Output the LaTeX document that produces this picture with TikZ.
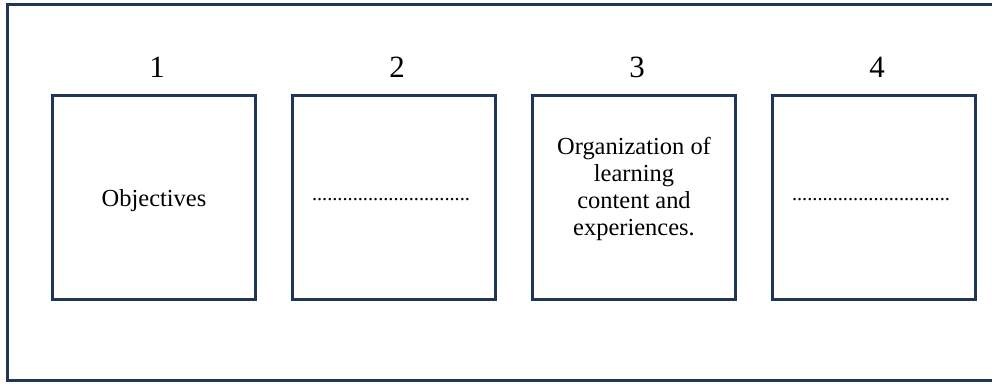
\documentclass[tikz,border=0pt]{standalone}
\usepackage{fontspec}
\setmainfont{Liberation Serif}
\usetikzlibrary{positioning}
\definecolor{ramka}{HTML}{1F3754}

\begin{document}
\begin{tikzpicture}[
        node distance=0.865cm, % Промежуток между квадратами
        blok/.style={draw=ramka, line width=0.075cm, minimum width=5.06cm, minimum height=5.1cm, inner sep=0pt}, % Квадраты этапов
        nomer/.style={inner sep=0pt, xshift=0.075cm, font=\fontsize{22}{26}\selectfont}, % Номера над квадратами
        tekst/.style={align=center, font=\fontsize{17.4}{19.4}\selectfont}, % Текст в квадрате
        tochki/.style={inner sep=0pt, xshift=-0.075cm, yshift=-0.075cm, font=\fontsize{14.5}{16}\selectfont}, % Пропуск для заполнения
    ]
    \useasboundingbox (0,0) rectangle (24.8,9.575);

    % Внешняя рамка, правый край за краем рисунка
    \draw[ramka, line width=0.075cm] (24.8,9.45) -- (0.18,9.45) -- (0.18,0.075) -- (24.8,0.075);

    \node[blok] (b1) at (3.85,4.65) {};
    \node[blok, right=of b1] (b2) {};
    \node[blok, right=of b2] (b3) {};
    \node[blok, right=of b3] (b4) {};

    \node[nomer, above=0.39cm of b1] (n1) {1};
    \node[nomer, above=0.39cm of b2] (n2) {2};
    \node[nomer, above=0.39cm of b3] (n3) {3};
    \node[nomer, above=0.39cm of b4] (n4) {4};

    \node[tekst, yshift=-0.1cm] (t1) at (b1) {Objectives};
    \node[tochki] (t2) at (b2) {...............................};
    \node[tekst, yshift=0.2cm] (t3) at (b3) {Organization of\\learning\\content and\\experiences.};
    \node[tochki] (t4) at (b4) {...............................};
\end{tikzpicture}
\end{document}
